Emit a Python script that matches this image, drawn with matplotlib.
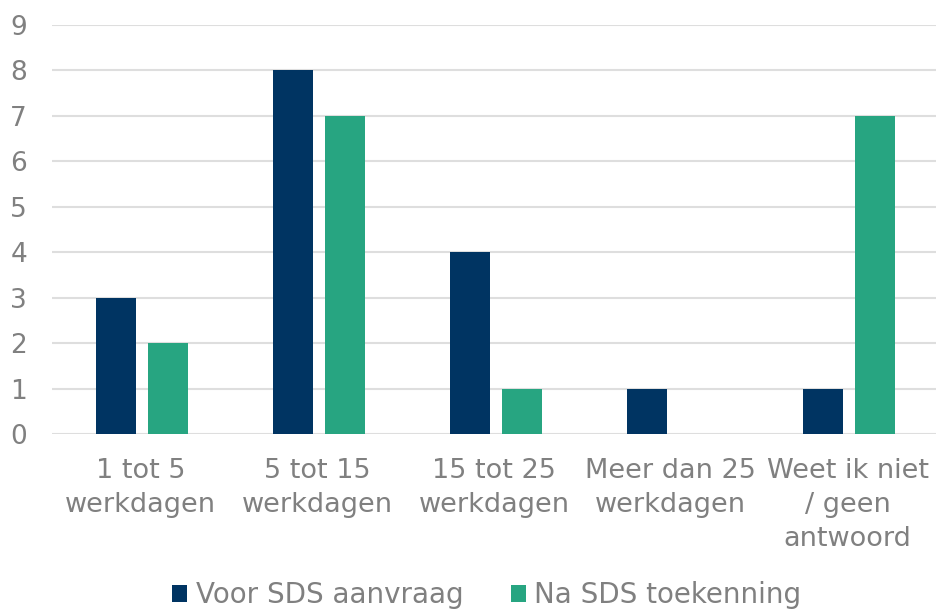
import numpy as np
import matplotlib.pyplot as plt

categories = ["1 tot 5\nwerkdagen", "5 tot 15\nwerkdagen", "15 tot 25\nwerkdagen",
              "Meer dan 25\nwerkdagen", "Weet ik niet\n/ geen\nantwoord"]
voor = [3, 8, 4, 1, 1]
na = [2, 7, 1, 0, 7]
series_names = ["Voor SDS aanvraag", "Na SDS toekenning"]

grey = "#808080"
fig = plt.figure(figsize=(9.36, 6.1), dpi=100)
ax = fig.add_axes([0.0556, 0.2885, 0.9444, 0.6705])

x = np.arange(len(categories))
w = 0.226
off = 0.147
ax.bar(x - off + 0.01, voor, w, color="#003462", label=series_names[0], zorder=3)
ax.bar(x + off + 0.01, na, w, color="#27a581", label=series_names[1], zorder=3)

ax.set_xlim(-0.5, len(categories) - 0.5)
ax.set_ylim(0, 9)
ax.set_yticks(range(0, 10))
ax.grid(axis="y", color="#dedede", linewidth=1.5, zorder=0)
for s in ax.spines.values():
    s.set_visible(False)
ax.tick_params(axis="both", length=0, labelcolor=grey)
ax.tick_params(axis="y", pad=18, labelsize=19)
ax.tick_params(axis="x", pad=17, labelsize=19.5)
ax.set_xticks(x)
ax.set_xticklabels(categories, linespacing=1.4)

fig.legend(loc="lower center", bbox_to_anchor=(0.52, -0.04), ncol=2, frameon=False,
           prop={"size": 20}, labelcolor=grey, handlelength=0.55, handleheight=0.55,
           handletextpad=0.3, columnspacing=1.7)

fig.savefig("out.png", dpi=100)
